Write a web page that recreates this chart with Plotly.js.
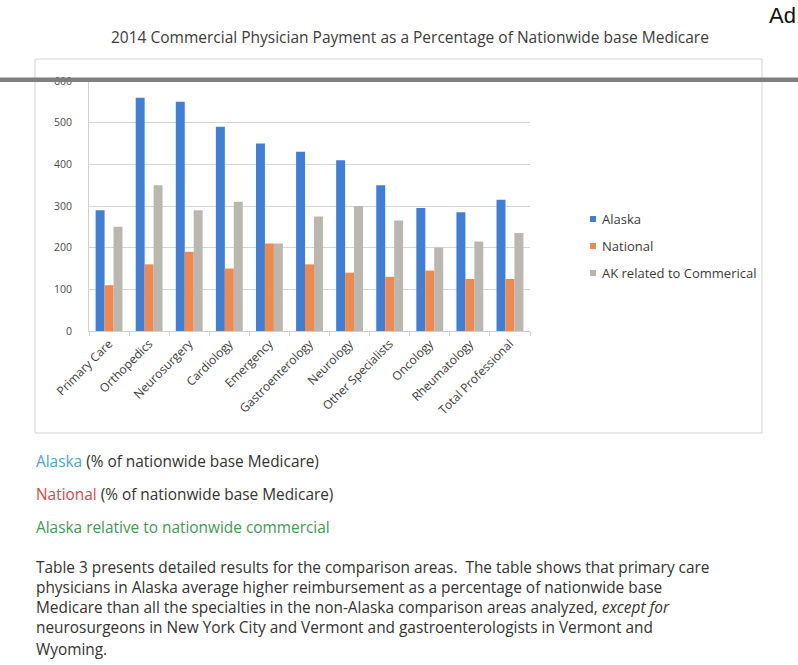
<!DOCTYPE html>
<html>
<head>
<meta charset="utf-8">
<script src="https://cdn.plot.ly/plotly-3.0.1.min.js"></script>
<style>
  html, body { margin: 0; padding: 0; background: #ffffff; }
  #chart { width: 798px; height: 665px; }
</style>
</head>
<body>
<div id="chart"></div>
<script>
// Specialty categories
const categories = [
  "Primary Care", "Orthopedics", "Neurosurgery", "Cardiology", "Emergency",
  "Gastroenterology", "Neurology", "Other Specialists", "Oncology",
  "Rheumatology", "Total Professional"
];

// Payment as % of nationwide base Medicare
const alaska   = [290, 560, 550, 490, 450, 430, 410, 350, 295, 285, 315];
const national = [110, 160, 190, 150, 210, 160, 140, 130, 145, 125, 125];
const akRelCommercial = [250, 350, 290, 310, 210, 275, 300, 265, 200, 215, 235];

const seriesNames = ["Alaska", "National", "AK related to Commerical"];
const yTicks = [0, 100, 200, 300, 400, 500, 600];

const COLORS = ["#3f7fd6", "#ef8a4e", "#bab7b0"];

// Plot area in page pixels, used to place the surrounding page elements
const PL = 89, PR = 530, PT = 81, PB = 331;
const W = 798, H = 665;
const px = x => (x - PL) / (PR - PL);
const py = y => (PB - y) / (PB - PT);

const FONT = "'Open Sans', 'Noto Sans', sans-serif";

const traces = [alaska, national, akRelCommercial].map((vals, i) => ({
  type: "bar",
  name: seriesNames[i],
  x: categories,
  y: vals,
  marker: { color: COLORS[i], line: { width: 0 } },
  hoverinfo: "x+y+name",
  showlegend: false
}));

const shapes = [
  // chart frame
  { type: "rect", xref: "paper", yref: "paper",
    x0: px(35), x1: px(762), y0: py(433), y1: py(59),
    line: { color: "#d2d2d2", width: 1 }, layer: "below" },
  // dark rule across the page
  { type: "rect", xref: "paper", yref: "paper",
    x0: px(0), x1: px(W), y0: py(82), y1: py(77.5),
    fillcolor: "#7f7f7f", line: { width: 0 }, layer: "above" }
];

const annotations = [
  { text: "2014 Commercial Physician Payment as a Percentage of Nationwide base Medicare",
    x: px(410), y: py(37), xanchor: "center", yanchor: "middle",
    font: { family: FONT, size: 15.5, color: "#3c3c3c" } },
  { text: "Ad", x: px(767), y: py(15), xanchor: "left", yanchor: "middle",
    font: { family: "'Liberation Sans', Arial, sans-serif", size: 22, color: "#111111" } }
];

// legend swatches and labels
const legendY = [219, 246, 273];
seriesNames.forEach((name, i) => {
  shapes.push({ type: "rect", xref: "paper", yref: "paper",
    x0: px(590), x1: px(596), y0: py(legendY[i] + 3), y1: py(legendY[i] - 3),
    fillcolor: COLORS[i], line: { width: 0 } });
  annotations.push({ text: name, x: px(600), y: py(legendY[i]),
    xanchor: "left", yanchor: "middle",
    font: { family: FONT, size: 13, color: "#3a3a3a" } });
});

// notes below the chart
const notes = [
  { y: 461, text: "<span style='color:#4aa3d6'>Alaska</span> (% of nationwide base Medicare)" },
  { y: 494, text: "<span style='color:#d64a4a'>National</span> (% of nationwide base Medicare)" },
  { y: 527, text: "<span style='color:#3f9a55'>Alaska relative to nationwide commercial</span>" },
  { y: 567, text: "Table 3 presents detailed results for the comparison areas.  The table shows that primary care" },
  { y: 587, text: "physicians in Alaska average higher reimbursement as a percentage of nationwide base" },
  { y: 607, text: "Medicare than all the specialties in the non-Alaska comparison areas analyzed, <i>except for</i>" },
  { y: 628, text: "neurosurgeons in New York City and Vermont and gastroenterologists in Vermont and" },
  { y: 649, text: "Wyoming." }
];
notes.forEach(n => annotations.push({
  text: n.text, x: px(34), y: py(n.y), xanchor: "left", yanchor: "middle",
  font: { family: FONT, size: 15.4, color: "#333333" }
}));

annotations.forEach(a => { a.xref = "paper"; a.yref = "paper"; a.showarrow = false; });

const layout = {
  width: W, height: H,
  margin: { l: PL, r: W - PR, t: PT, b: H - PB, pad: 0 },
  paper_bgcolor: "#ffffff",
  plot_bgcolor: "#ffffff",
  barmode: "group",
  bargap: 0.33,
  bargroupgap: 0,
  showlegend: false,
  xaxis: {
    type: "category",
    tickangle: -45,
    tickson: "boundaries",
    ticks: "outside", ticklen: 4, tickcolor: "#cfcfcf",
    showline: true, linecolor: "#cfcfcf", linewidth: 1,
    showgrid: false,
    tickfont: { family: FONT, size: 12, color: "#3a3a3a" }
  },
  yaxis: {
    range: [0, 600],
    tickvals: yTicks,
    ticks: "", ticklabelstandoff: 14,
    showline: true, linecolor: "#cfcfcf", linewidth: 1,
    showgrid: true, gridcolor: "#d4d4d4", gridwidth: 1,
    zeroline: false,
    tickfont: { family: FONT, size: 10.5, color: "#4a4a4a" }
  },
  shapes: shapes,
  annotations: annotations
};

Plotly.newPlot("chart", traces, layout, { displayModeBar: false, staticPlot: true });
</script>
</body>
</html>
